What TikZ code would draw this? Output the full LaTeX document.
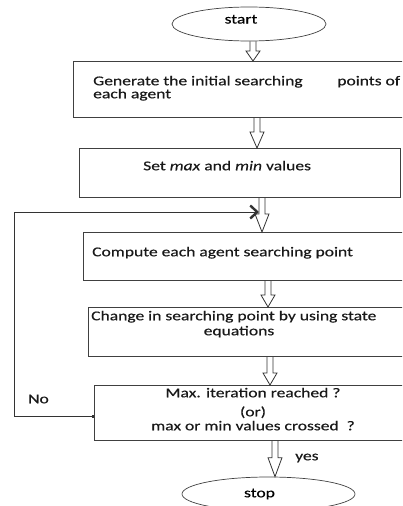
\documentclass[tikz,border=0pt]{standalone}
\usepackage{fontspec}
\setmainfont{Carlito}[FakeStretch=1.3,FakeBold=0.4]
\usetikzlibrary{arrows.meta,calc,shapes.geometric}
\tikzset{
  box/.style={draw=black!75, line width=0.8pt, rectangle, inner sep=0pt, anchor=north west},
  term/.style={draw=black!75, line width=0.7pt, ellipse, inner sep=0pt, text height=9.5pt},
  txt/.style={inner sep=0pt, text height=9.5pt, text depth=3pt, text=black!90},
  harrowstyle/.style={draw=black!80, line width=0.8pt, line join=miter},
  loopline/.style={draw=black!80, line width=0.8pt},
}
\newcommand{\harrow}[4]{%
  \draw[harrowstyle] let \p1=(#1), \p2=(#2) in
   ({#3pt-3pt},\y1) -- ({#3pt-3pt},{\y2+#4pt}) -- ({#3pt-7pt},{\y2+#4pt}) --
   (#3pt,\y2) -- ({#3pt+7pt},{\y2+#4pt}) -- ({#3pt+3pt},{\y2+#4pt}) -- ({#3pt+3pt},\y1);
}
\begin{document}
\begin{tikzpicture}[x=1pt,y=-1pt,font=\fontsize{13.5}{13.5}\selectfont]
\useasboundingbox (0,0) rectangle (402,506);
\clip (0,0) rectangle (402,506);
% terminals
\node[term, minimum width=154pt, minimum height=34pt, text depth=10.5pt] (start) at (249,24) {start\hspace*{16pt}};
\node[term, minimum width=173pt, minimum height=34pt, text depth=3pt] (stop) at (268.5,494) {stop\hspace*{18pt}};
% boxes
\node[box, minimum width=347pt, minimum height=56pt] (b1) at (73,61) {};
\node[box, minimum width=321pt, minimum height=49pt] (b2) at (79,148) {};
\node[box, minimum width=337pt, minimum height=48pt] (b3) at (83,232) {};
\node[box, minimum width=332pt, minimum height=49pt] (b4) at (88,307) {};
\node[box, minimum width=326pt, minimum height=55pt] (b5) at (94,385) {};
% texts
\node[txt, anchor=west] (t1a) at (93,82) {\makebox[307pt][l]{Generate the initial searching\hfill points of}};
\node[txt, anchor=west] (t1b) at (93,95) {each agent};
\node[txt, anchor=west] (t2) at (143,167) {Set \textit{max} and \textit{min} values};
\node[txt, anchor=west] (t3) at (92,253) {Compute each agent searching point};
\node[txt, anchor=west] (t4a) at (91,317) {Change in searching point by using state};
\node[txt] (t4b) at (239,332) {equations};
\node[txt] (t5a) at (253,394) {Max. iteration reached ?};
\node[txt] (t5b) at (253,413) {(or)};
\node[txt] (t5c) at (253,427) {max or min values crossed\ \ ?};
\node[txt, anchor=west] (no) at (28,400) {No};
\node[txt, anchor=west] (yes) at (295,457) {yes};
% hollow arrows
\harrow{start.south}{b1.north}{253}{10}
\harrow{b1.south}{b2.north}{257}{16}
\harrow{b2.south}{b3.north}{262}{18}
\harrow{b3.south}{b4.north}{268}{12}
\harrow{b4.south}{b5.north}{270}{12}
\harrow{b5.south}{stop.north}{275}{19}
% loop back
\coordinate (loopcorner) at (14,212);
\coordinate (loopend) at (259,212);
\draw[loopline, {Square[length=2.5pt,width=2.5pt]}-{Straight Barb[line width=2.4pt,length=7pt,width=13pt]}]
  ([yshift=-3.5pt]b5.west) -| (loopcorner) -- (loopend);
\end{tikzpicture}
\end{document}
